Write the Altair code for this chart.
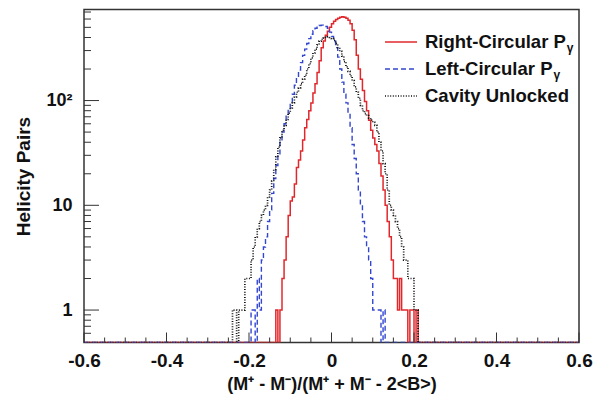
import altair as alt
import pandas as pd

# ---------------- data (histogram counts, bin width 0.005) ----------------
BIN = 0.005
FLOOR = 0.49  # zero bins drawn on the bottom edge of the log axis

red_start = -0.135
red_counts = [1, 0, 1, 2, 3, 5, 8, 11, 12, 16, 23, 27, 33, 42, 55, 66, 80, 95, 118, 145,
              185, 240, 320, 370, 420, 460, 500, 540, 570, 595, 610, 625, 630, 625, 610, 585,
              540, 470, 380, 270, 200, 160, 125, 98, 80, 65, 52, 44, 38, 33, 25, 19, 14, 10,
              7, 5, 3, 2, 2, 1, 2, 1, 1, 1, 0, 1, 1, 0, 1]

blue_start = -0.195
blue_counts = [1, 1, 0, 2, 1, 3, 4, 5, 7, 9, 13, 18, 24, 31, 40, 50, 60, 72, 82, 95,
               115, 140, 165, 195, 230, 270, 310, 350, 390, 430, 465, 490, 510, 520, 525,
               520, 510, 490, 450, 410, 370, 320, 260, 200, 150, 115, 95, 75, 55, 38, 28,
               20, 14, 10, 7, 5, 4, 3, 2, 1, 1, 1, 1, 0, 1]

black_start = -0.24
black_counts = [1, 1, 0, 1, 1, 1, 2, 2, 2, 3, 4, 5, 6, 7, 8, 9, 10, 12, 14, 17, 22, 29,
                36, 44, 52, 58, 66, 76, 85, 95, 108, 120, 132, 145, 160, 175, 200, 225, 255,
                285, 310, 340, 370, 385, 395, 400, 405, 400, 390, 375, 350, 320, 295, 265,
                235, 210, 190, 172, 155, 135, 120, 105, 90, 80, 75, 72, 68, 65, 62, 58, 50,
                40, 33, 25, 20, 14, 10, 9, 8, 7, 6, 5, 4, 3, 3, 2, 2, 2, 1, 1]

x_major = [-0.6, -0.4, -0.2, 0.0, 0.2, 0.4, 0.6]
x_minor = [-0.55, -0.5, -0.45, -0.35, -0.3, -0.25, -0.15, -0.1, -0.05,
           0.05, 0.1, 0.15, 0.25, 0.3, 0.35, 0.45, 0.5, 0.55]
y_major = [1, 10, 100]
y_minor = [0.6, 0.7, 0.8, 0.9, 2, 3, 4, 5, 6, 7, 8, 9, 20, 30, 40, 50, 60, 70, 80, 90,
           200, 300, 400, 500, 600, 700]

labels = ["Right-Circular P", "Left-Circular P", "Cavity Unlocked"]


def hist_points(start, counts):
    xs = [-0.6]
    vs = [FLOOR]
    for i, c in enumerate(counts):
        xs.append(round(start + i * BIN, 4))
        vs.append(c if c > 0 else FLOOR)
    xs.append(round(start + len(counts) * BIN, 4))
    vs.append(FLOOR)
    xs.append(0.6)
    vs.append(FLOOR)
    return pd.DataFrame({"x": xs, "v": vs})


W, H = 495, 333
FONT = "Liberation Sans"

xs = alt.Scale(domain=[-0.6, 0.6], nice=False, zero=False)
ys = alt.Scale(type="log", domain=[FLOOR, 740], nice=False)

x_axis = alt.Axis(
    values=x_major,
    labelExpr="datum.value == 0 ? '0' : (datum.value < 0 ? '-' + format(-datum.value, '.1f') : format(datum.value, '.1f'))",
    ticks=False, domain=False, grid=False, labelFlush=False, labelOverlap=False,
    labelPadding=9, labelFontSize=19,
    title="(M⁺ - M⁻)/(M⁺ + M⁻ - 2<B>)", titleFontSize=18, titlePadding=5,
)
y_axis = alt.Axis(
    values=y_major,
    labelExpr="datum.value == 100 ? '10²' : (datum.value == 10 ? '10' : '1')",
    ticks=False, domain=False, grid=False, labelFlush=False, labelOverlap=False,
    labelPadding=12, labelFontSize=18,
    title="Helicity Pairs", titleFontSize=19, titlePadding=12,
)

X = alt.X("x:Q", scale=xs, axis=x_axis)
Y = alt.Y("v:Q", scale=ys, axis=y_axis)

red = alt.Chart(hist_points(red_start, red_counts)).mark_line(
    interpolate="step-after", color="#e0282c", strokeWidth=1.5, clip=True
).encode(x=X, y=Y)
blue = alt.Chart(hist_points(blue_start, blue_counts)).mark_line(
    interpolate="step-after", color="#3346d0", strokeWidth=1.4, strokeDash=[5, 3], clip=True
).encode(x=X, y=Y)
black = alt.Chart(hist_points(black_start, black_counts)).mark_line(
    interpolate="step-after", color="#111111", strokeWidth=1.7, strokeDash=[1, 1.6], clip=True
).encode(x=X, y=Y)

xt_major = alt.Chart(pd.DataFrame({"x": x_major})).mark_rule(color="#333", strokeWidth=1).encode(
    x=X, y=alt.value(H), y2=alt.value(H - 10))
xt_minor = alt.Chart(pd.DataFrame({"x": x_minor})).mark_rule(color="#333", strokeWidth=1).encode(
    x=X, y=alt.value(H), y2=alt.value(H - 5))
yt_major = alt.Chart(pd.DataFrame({"v": y_major})).mark_rule(color="#333", strokeWidth=1).encode(
    y=Y, x=alt.value(0), x2=alt.value(15))
yt_minor = alt.Chart(pd.DataFrame({"v": y_minor})).mark_rule(color="#333", strokeWidth=1).encode(
    y=Y, x=alt.value(0), x2=alt.value(7))

one = pd.DataFrame({"a": [0]})
LX0, LX1, TX = 301, 333, 341
rows = [32.5, 59.5, 86.5]
LFS = 18.5

legend_layers = []
styles = [dict(color="#e0282c", strokeWidth=1.5),
          dict(color="#3346d0", strokeWidth=1.4, strokeDash=[5, 3]),
          dict(color="#111111", strokeWidth=1.7, strokeDash=[1, 1.6])]
for lab, yy, st in zip(labels, rows, styles):
    legend_layers.append(alt.Chart(one).mark_rule(**st).encode(
        x=alt.value(LX0), x2=alt.value(LX1), y=alt.value(yy)))
    legend_layers.append(alt.Chart(one).mark_text(
        align="left", baseline="middle", font=FONT, fontWeight="bold", fontSize=LFS, color="#111"
    ).encode(x=alt.value(TX), y=alt.value(yy), text=alt.value(lab)))
# subscript gamma after "P"
p_w_right = 7.612 * LFS
p_w_left = (0.611 + 0.556 + 0.333 + 0.333 + 0.333 + 0.722 + 0.278 + 0.389 + 0.556 + 0.611 + 0.278 + 0.556 + 0.389 + 0.278 + 0.667) * LFS
for yy, wdt in zip(rows[:2], [p_w_right, p_w_left]):
    legend_layers.append(alt.Chart(one).mark_text(
        align="left", baseline="middle", font=FONT, fontWeight="bold", fontSize=12, color="#111"
    ).encode(x=alt.value(TX + wdt + 1), y=alt.value(yy + 6), text=alt.value("γ")))

chart = alt.layer(
    red, blue, black, xt_major, xt_minor, yt_major, yt_minor, *legend_layers
).properties(
    width=W, height=H, autosize="none",
    padding={"left": 84, "top": 9.5, "right": 14, "bottom": 55},
    background="white",
).configure_view(
    stroke="#333", strokeWidth=1.5
).configure_axis(
    labelFont=FONT, titleFont=FONT, labelFontWeight="bold", titleFontWeight="bold",
    labelColor="#111", titleColor="#111"
)

chart.save("out.html", embed_options={"renderer": "svg", "actions": False})
